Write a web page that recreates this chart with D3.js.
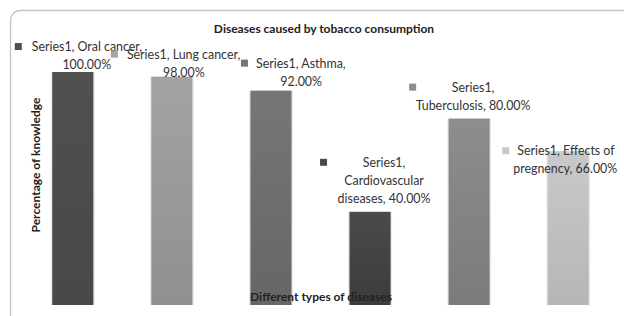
<!DOCTYPE html>
<html>
<head>
<meta charset="utf-8">
<script src="https://cdn.jsdelivr.net/npm/d3@7"></script>
<style>
  body { margin: 0; background: #fff; }
  text { font-family: Lato, 'Open Sans', sans-serif; fill: #222; }
  .title { font-weight: bold; font-size: 12px; }
  .axis-title { font-weight: bold; font-size: 12px; }
  .label { font-size: 12.4px; fill: #333; }
</style>
</head>
<body>
<svg id="chart"></svg>
<script>
const diseases = ['Oral cancer', 'Lung cancer', 'Asthma', 'Cardiovascular diseases', 'Tuberculosis', 'Effects of pregnency'];
const knowledge = [100, 98, 92, 40, 80, 66];
const barTop = ['#505050', '#a3a3a3', '#767676', '#4a4a4a', '#8d8d8d', '#c9c9c9'];
const barBottom = ['#484848', '#909090', '#666666', '#3c3c3c', '#7b7b7b', '#b6b6b6'];

// data label lines, as Excel wrapped them
const labelLines = [
	['Series1, Oral cancer,', '100.00%'],
	['Series1, Lung cancer,', '98.00%'],
	['Series1, Asthma,', '92.00%'],
	['Series1,', 'Cardiovascular', 'diseases, 40.00%'],
	['Series1,', 'Tuberculosis, 80.00%'],
	['Series1, Effects of', 'pregnency, 66.00%'],
];

const width = 624;
const height = 316;
const baseline = 305;

const svg = d3.select('#chart').attr('width', width).attr('height', height);

// chart area frame
svg.append('rect')
	.attr('x', 10.5).attr('y', 10.5)
	.attr('width', 660).attr('height', 340)
	.attr('rx', 10)
	.attr('fill', 'none')
	.attr('stroke', '#c4c4c4')
	.attr('stroke-width', 1.3);

const x = d3.scaleBand()
	.domain(diseases)
	.range([23.5, 617.5])
	.paddingInner(0.585)
	.paddingOuter(0.29);

const y = d3.scaleLinear()
	.domain([0, 100])
	.range([baseline, 72]);

const defs = svg.append('defs');
diseases.forEach((d, i) => {
	const g = defs.append('linearGradient')
		.attr('id', 'g' + i)
		.attr('x1', 0).attr('y1', 0).attr('x2', 0).attr('y2', 1);
	g.append('stop').attr('offset', '0%').attr('stop-color', barTop[i]);
	g.append('stop').attr('offset', '100%').attr('stop-color', barBottom[i]);
});

const bars = svg.append('g');
// soft shadow
bars.selectAll('.shadow')
	.data(diseases)
	.join('rect')
	.attr('class', 'shadow')
	.attr('x', (d) => x(d) - 1.5)
	.attr('y', (d, i) => y(knowledge[i]))
	.attr('width', x.bandwidth() + 3)
	.attr('height', (d, i) => baseline - y(knowledge[i]))
	.attr('fill', '#000')
	.attr('opacity', 0.08);

bars.selectAll('.bar')
	.data(diseases)
	.join('rect')
	.attr('class', 'bar')
	.attr('x', (d) => x(d))
	.attr('y', (d, i) => y(knowledge[i]))
	.attr('width', x.bandwidth())
	.attr('height', (d, i) => baseline - y(knowledge[i]))
	.attr('fill', (d, i) => 'url(#g' + i + ')');

svg.append('text')
	.attr('class', 'title')
	.attr('x', 324).attr('y', 33)
	.attr('text-anchor', 'middle')
	.text('Diseases caused by tobacco consumption');

svg.append('text')
	.attr('class', 'axis-title')
	.attr('transform', 'translate(40,165) rotate(-90)')
	.attr('text-anchor', 'middle')
	.text('Percentage of knowledge');

svg.append('text')
	.attr('class', 'axis-title')
	.attr('x', 321).attr('y', 301)
	.attr('text-anchor', 'middle')
	.text('Different types of diseases');

// label placement relative to each bar (centre cx, top of bar)
const labelPos = [
	{ mx: -55, my: -25, lines: [{ dx: -41, anchor: 'start' }, { dx: 14, anchor: 'middle' }] },
	{ mx: -58, my: -22, lines: [{ dx: -45, anchor: 'start' }, { dx: 12, anchor: 'middle' }] },
	{ mx: -27, my: -27, lines: [{ dx: -15, anchor: 'start' }, { dx: 51, anchor: 'end' }] },
	{ mx: -47, my: -49, lines: [{ dx: 14, anchor: 'middle' }, { dx: 14, anchor: 'middle' }, { dx: 14, anchor: 'middle' }] },
	{ mx: -57, my: -31, lines: [{ dx: 4, anchor: 'middle' }, { dx: 4, anchor: 'middle' }] },
	{ mx: -63, my: 0, lines: [{ dx: -51, anchor: 'start' }, { dx: 49, anchor: 'end' }] },
];

const labels = svg.append('g');
diseases.forEach((d, i) => {
	const cx = x(d) + x.bandwidth() / 2;
	const top = y(knowledge[i]);
	const p = labelPos[i];
	labels.append('rect')
		.attr('x', cx + p.mx - 3).attr('y', top + p.my - 4)
		.attr('width', 7).attr('height', 7)
		.attr('fill', barTop[i]);
	labelLines[i].forEach((line, j) => {
		labels.append('text')
			.attr('class', 'label')
			.attr('x', cx + p.lines[j].dx)
			.attr('y', top + p.my + 4 + j * 18.2)
			.attr('text-anchor', p.lines[j].anchor)
			.text(line);
	});
});
</script>
</body>
</html>
